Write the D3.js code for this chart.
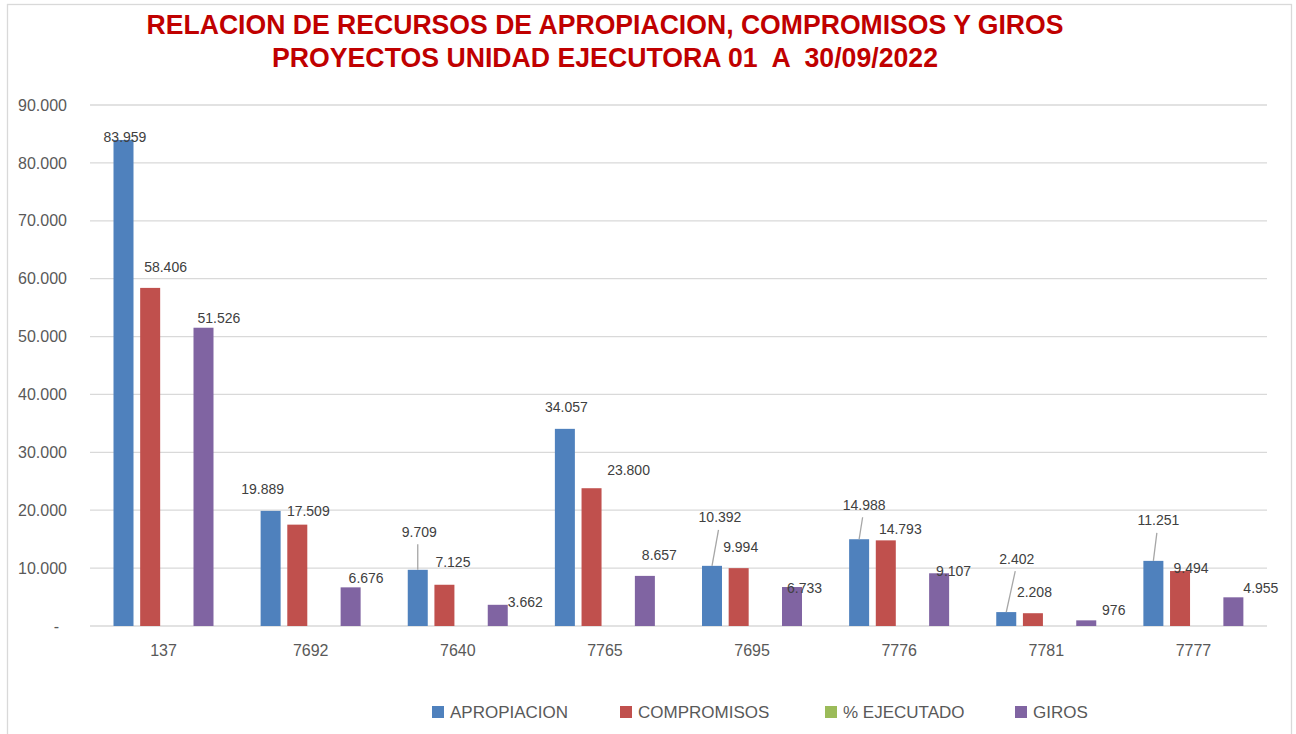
<!DOCTYPE html>
<html>
<head>
<meta charset="utf-8">
<script src="https://cdn.jsdelivr.net/npm/d3@7"></script>
<style>
  html, body { margin: 0; padding: 0; background: #ffffff; }
  svg { display: block; }
  text.title { white-space: pre; }
</style>
</head>
<body>
<svg id="chart" width="1296" height="734"></svg>
<script>
// ---- data ----
const categories = ["137", "7692", "7640", "7765", "7695", "7776", "7781", "7777"];
const seriesNames = ["APROPIACION", "COMPROMISOS", "% EJECUTADO", "GIROS"];
const apropiacion = [83959, 19889, 9709, 34057, 10392, 14988, 2402, 11251];
const compromisos = [58406, 17509, 7125, 23800, 9994, 14793, 2208, 9494];
const ejecutado   = [null, null, null, null, null, null, null, null];
const giros       = [51526, 6676, 3662, 8657, 6733, 9107, 976, 4955];
const yTicks = [0, 10000, 20000, 30000, 40000, 50000, 60000, 70000, 80000, 90000];
const titleLines = ["RELACION DE RECURSOS DE APROPIACION, COMPROMISOS Y GIROS",
                    "PROYECTOS UNIDAD EJECUTORA 01  A  30/09/2022"];

// ---- styling / layout (not data) ----
const colors = ["#4f81bd", "#c0504d", "#9bbb59", "#8064a2"];
// manual label nudges (dx from bar centre, dy of label centre from bar top)
const labelNudge = {
  "APROPIACION": [[1.5,-3],[-8,-21.5],[1.5,-38],[1.5,-21.5],[8,-48.5],[5,-34.5],[10.5,-53.5],[5,-40.5]],
  "COMPROMISOS": [[15.4,-21],[11,-13.5],[8.5,-22.5],[37,-18],[2,-21.5],[14.5,-11],[1.5,-21],[11,-3.5]],
  "% EJECUTADO": [[0,0],[0,0],[0,0],[0,0],[0,0],[0,0],[0,0],[0,0]],
  "GIROS":       [[15.4,-10],[15.5,-9],[27.5,-3],[14.5,-20.5],[12.5,0.5],[14.5,-2.5],[27.5,-10.5],[27.5,-9.5]]
};

const seriesValues = [apropiacion, compromisos, ejecutado, giros];
const table = categories.map((c, i) => ({
  cat: c, i,
  vals: seriesNames.map((s, k) => ({ s, k, i, v: seriesValues[k][i] }))
}));

const loc = d3.formatLocale({ decimal: ",", thousands: ".", grouping: [3], currency: ["", ""] });
const fmt = loc.format(",d");

const svg = d3.select("#chart");
const fontFam = "'Liberation Sans', Arial, sans-serif";

// outer border
svg.append("rect").attr("x", 7.5).attr("y", 4.5).attr("width", 1284).attr("height", 740)
  .attr("fill", "#fff").attr("stroke", "#d9d9d9").attr("stroke-width", 1.3);

// title
const tl = [{ t: titleLines[0], y: 34, w: 917 }, { t: titleLines[1], y: 67, w: 666 }];
svg.selectAll("text.title").data(tl).enter().append("text")
  .attr("class", "title")
  .attr("xml:space", "preserve")
  .attr("x", 605).attr("y", d => d.y)
  .attr("text-anchor", "middle")
  .attr("font-family", fontFam).attr("font-weight", "bold").attr("font-size", 27)
  .attr("fill", "#c00000")
  .attr("textLength", d => d.w).attr("lengthAdjust", "spacingAndGlyphs")
  .text(d => d.t);

// scales
const y = d3.scaleLinear().domain([0, 90000]).range([626, 105]);
const x0 = d3.scaleBand().domain(categories).range([90, 1267]).padding(0);
const x1 = d3.scaleBand().domain(seriesNames).range([23.5, 123.5]).paddingInner(0.25).paddingOuter(0);

// gridlines
svg.append("g").selectAll("line").data(yTicks).enter().append("line")
  .attr("x1", 90).attr("x2", 1267)
  .attr("y1", d => y(d)).attr("y2", d => y(d))
  .attr("stroke", "#d9d9d9").attr("stroke-width", 1.3);

// y axis labels
const yAxis = d3.axisLeft(y).tickValues(yTicks).tickSize(0).tickPadding(0)
  .tickFormat(d => d === 0 ? "-" : fmt(d));
const gy = svg.append("g").attr("transform", "translate(67,0)").call(yAxis);
gy.select(".domain").remove();
gy.selectAll("text").attr("font-family", fontFam).attr("font-size", 16).attr("fill", "#595959")
  .attr("dx", d => d === 0 ? -8 : 0);

// x axis labels
const xAxis = d3.axisBottom(x0).tickSize(0).tickPadding(0);
const gx = svg.append("g").attr("transform", "translate(0,645)").call(xAxis);
gx.select(".domain").remove();
gx.selectAll("text").attr("font-family", fontFam).attr("font-size", 16).attr("fill", "#595959");

// bars
const groups = svg.append("g").selectAll("g.cat").data(table).enter().append("g")
  .attr("class", "cat").attr("transform", d => `translate(${x0(d.cat)},0)`);

groups.selectAll("rect").data(d => d.vals.filter(v => v.v != null)).enter().append("rect")
  .attr("x", d => x1(d.s)).attr("width", x1.bandwidth())
  .attr("y", d => y(d.v)).attr("height", d => y(0) - y(d.v))
  .attr("fill", d => colors[d.k]);

// leader lines + labels
const labelled = table.flatMap(d => d.vals.filter(v => v.v != null));
const lx = d => x0(categories[d.i]) + x1(d.s) + x1.bandwidth() / 2;
const nud = d => labelNudge[d.s][d.i];

svg.append("g").selectAll("line").data(labelled.filter(d => nud(d)[1] < -30)).enter().append("line")
  .attr("x1", d => lx(d)).attr("y1", d => y(d.v))
  .attr("x2", d => lx(d) + nud(d)[0] - 1.5).attr("y2", d => y(d.v) + nud(d)[1] + 12.5)
  .attr("stroke", "#a6a6a6").attr("stroke-width", 1.3);

svg.append("g").selectAll("text").data(labelled).enter().append("text")
  .attr("x", d => lx(d) + nud(d)[0])
  .attr("y", d => y(d.v) + nud(d)[1])
  .attr("dy", "0.36em")
  .attr("text-anchor", "middle")
  .attr("font-family", fontFam).attr("font-size", 14).attr("fill", "#404040")
  .text(d => fmt(d.v));

// legend
const legendX = [432, 620, 825, 1015];
const lg = svg.append("g").selectAll("g").data(seriesNames).enter().append("g")
  .attr("transform", (d, k) => `translate(${legendX[k]},712)`);
lg.append("rect").attr("x", 0).attr("y", -6).attr("width", 12).attr("height", 12)
  .attr("fill", (d, k) => colors[k]);
lg.append("text").attr("x", 18).attr("y", 0).attr("dy", "0.36em")
  .attr("font-family", fontFam).attr("font-size", 17).attr("fill", "#595959")
  .text(d => d);
</script>
</body>
</html>
